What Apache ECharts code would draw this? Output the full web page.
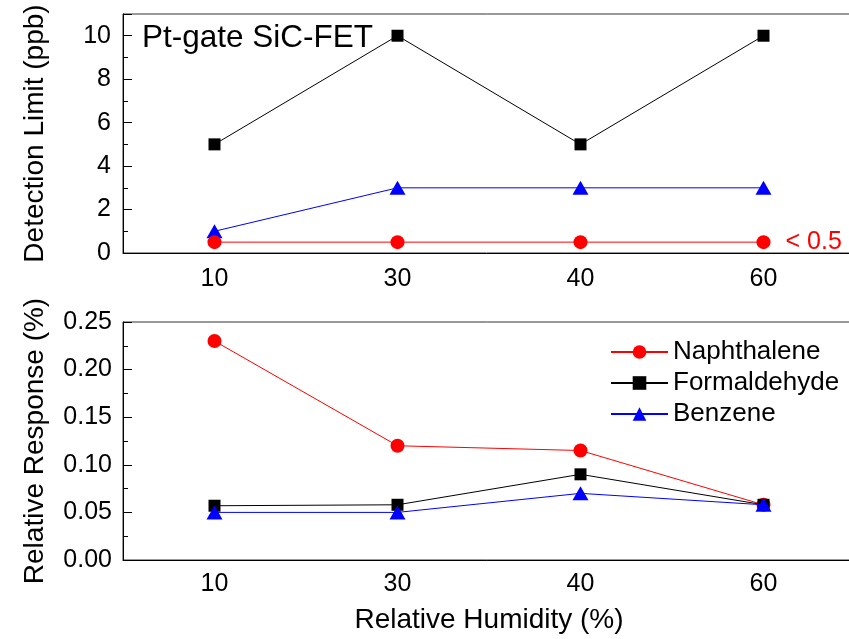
<!DOCTYPE html>
<html><head><meta charset="utf-8">
<script src="https://cdn.jsdelivr.net/npm/echarts@6/dist/echarts.min.js"></script>
<style>html,body{margin:0;padding:0;background:#fff}#c{width:849px;height:639px}</style>
</head><body><div id="c"></div>
<script>
const humidity = ['10', '30', '40', '60'];
const seriesNames = ['Naphthalene', 'Formaldehyde', 'Benzene'];
// Detection limit (ppb)
const dlNaphthalene = [0.5, 0.5, 0.5, 0.5];
const dlFormaldehyde = [5, 10, 5, 10];
const dlBenzene = [1, 3, 3, 3];
// Relative response (%)
const rrNaphthalene = [0.23, 0.12, 0.115, 0.058];
const rrFormaldehyde = [0.057, 0.058, 0.09, 0.058];
const rrBenzene = [0.05, 0.05, 0.07, 0.058];
const dlTicks = [0, 2, 4, 6, 8, 10];
const rrTicks = [0, 0.05, 0.10, 0.15, 0.20, 0.25];

const FONT = 'Liberation Sans, Arial, sans-serif';
const C_RED = '#ff0000', C_BLK = '#000000', C_BLU = '#0000ff';
const sym = {Naphthalene: 'circle', Formaldehyde: 'rect', Benzene: 'triangle'};
const symSize = {Naphthalene: 14, Formaldehyde: 12, Benzene: [16, 14]};
const col = {Naphthalene: C_RED, Formaldehyde: C_BLK, Benzene: C_BLU};

function mk(name, data, gi, z, extra) {
  return Object.assign({
    name: name, type: 'line', data: data,
    xAxisIndex: gi, yAxisIndex: gi, z: z,
    symbol: sym[name], symbolSize: symSize[name],
    itemStyle: {color: col[name]},
    lineStyle: {color: col[name], width: 1},
    animation: false
  }, extra || {});
}

const xBase = (gi) => ({
  type: 'category', data: humidity, gridIndex: gi, boundaryGap: true,
  axisLine: {lineStyle: {color: '#000', width: 1}},
  axisTick: {alignWithLabel: true, inside: gi === 1, length: gi === 1 ? 10 : 8, lineStyle: {color: '#000'}},
  axisLabel: {color: '#000', fontSize: 25, fontFamily: FONT, margin: gi === 1 ? 12 : 14},
  splitLine: {show: false}
});

const chart = echarts.init(document.getElementById('c'), null, {renderer: 'canvas'});
chart.setOption({
  backgroundColor: '#fff',
  animation: false,
  title: {text: 'Pt-gate SiC-FET', left: 137, top: 17,
    textStyle: {fontSize: 31.5, fontWeight: 'normal', color: '#000', fontFamily: FONT}},
  legend: {
    data: seriesNames, orient: 'vertical', left: 605, top: 334,
    itemWidth: 57, itemHeight: 17, itemGap: 5,
    textStyle: {fontSize: 26, color: '#000', fontFamily: FONT, lineHeight: 26},
    selectedMode: false
  },
  grid: [
    {left: 123, width: 732, top: 14, height: 239, outerBoundsMode: 'none', containLabel: false,
     show: true, borderColor: '#333', borderWidth: 1},
    {left: 123, width: 732, top: 322, height: 238, outerBoundsMode: 'none', containLabel: false,
     show: true, borderColor: '#333', borderWidth: 1}
  ],
  xAxis: [
    xBase(0),
    Object.assign(xBase(1), {name: 'Relative Humidity (%)', nameLocation: 'middle', nameGap: 46,
      nameTextStyle: {fontSize: 28, color: '#000', fontFamily: FONT}})
  ],
  yAxis: [
    {type: 'value', gridIndex: 0, min: dlTicks[0], max: 11, interval: dlTicks[1] - dlTicks[0],
     name: 'Detection Limit (ppb)', nameLocation: 'middle', nameGap: 74,
     nameTextStyle: {fontSize: 28, color: '#000', fontFamily: FONT},
     axisLine: {show: true, lineStyle: {color: '#000'}},
     axisTick: {show: true, inside: true, length: 9, lineStyle: {color: '#000'}},
     minorTick: {show: true, splitNumber: 2, length: 5, lineStyle: {color: '#000'}},
     axisLabel: {color: '#000', fontSize: 25, fontFamily: FONT, margin: 12,
       formatter: v => dlTicks.indexOf(v) >= 0 ? String(v) : ''},
     splitLine: {show: false}},
    {type: 'value', gridIndex: 1, min: rrTicks[0], max: rrTicks[rrTicks.length - 1], interval: 0.05,
     name: 'Relative Response (%)', nameLocation: 'middle', nameGap: 74,
     nameTextStyle: {fontSize: 28, color: '#000', fontFamily: FONT},
     axisLine: {show: true, lineStyle: {color: '#000'}},
     axisTick: {show: true, inside: true, length: 9, lineStyle: {color: '#000'}},
     minorTick: {show: true, splitNumber: 2, length: 5, lineStyle: {color: '#000'}},
     axisLabel: {color: '#000', fontSize: 25, fontFamily: FONT, margin: 11,
       formatter: v => v.toFixed(2)},
     splitLine: {show: false}}
  ],
  series: [
    mk('Formaldehyde', dlFormaldehyde, 0, 2),
    mk('Benzene', dlBenzene, 0, 3),
    mk('Naphthalene', dlNaphthalene, 0, 4, {
      label: {show: true, position: 'right', distance: 15, color: C_RED, fontSize: 25, fontFamily: FONT,
        formatter: p => p.dataIndex === dlNaphthalene.length - 1 ? '< ' + p.value : ''}
    }),
    mk('Naphthalene', rrNaphthalene, 1, 2),
    mk('Formaldehyde', rrFormaldehyde, 1, 3),
    mk('Benzene', rrBenzene, 1, 4)
  ]
});
</script></body></html>
